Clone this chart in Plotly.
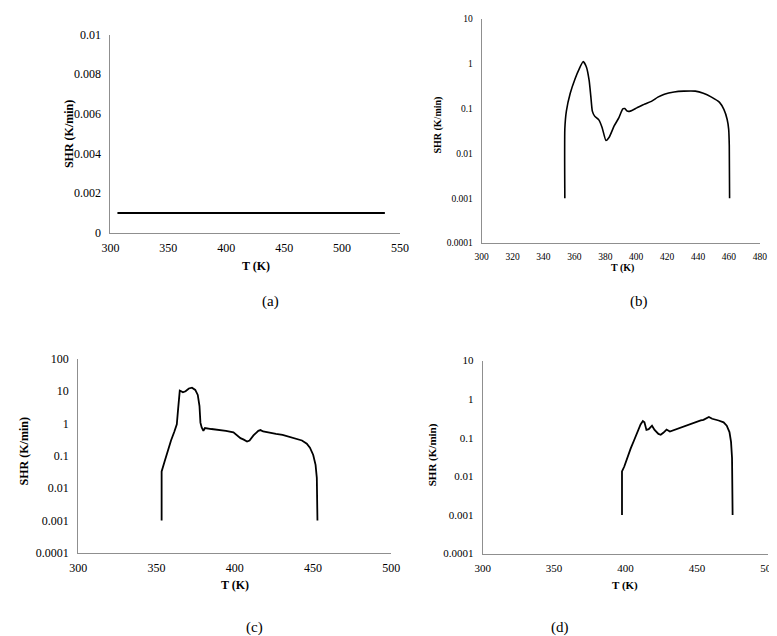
import plotly.graph_objects as go

W, H = 777, 636

# ---- data ----
T_a = [306, 537]
shr_a = [0.001, 0.001]

T_b = [353.8, 353.8, 354.8, 357.3, 360.5, 363.2, 365.7, 367.8, 369.5, 370.6, 371.6, 373.1,
       375.8, 377.9, 380.4, 382.5, 385.7, 388.8, 391.3, 392.6, 394.1, 396.2, 400.4, 405.6,
       409.8, 414.0, 418.2, 424.5, 430.8, 438.2, 443.4, 448.7, 453.9, 456.7, 458.8, 459.8,
       460.2, 460.4]
shr_b = [0.001, 0.035, 0.088, 0.22, 0.47, 0.78, 1.12, 0.84, 0.43, 0.19, 0.088, 0.068,
         0.056, 0.038, 0.0195, 0.023, 0.041, 0.063, 0.099, 0.1, 0.088, 0.088, 0.104, 0.127,
         0.145, 0.18, 0.21, 0.235, 0.245, 0.245, 0.22, 0.18, 0.138, 0.096, 0.058, 0.035,
         0.015, 0.001]

T_c = [353.3, 353.3, 355.2, 357.2, 359.3, 361.4, 363.0, 363.8, 364.9, 365.5, 366.9, 368.6,
       370.7, 372.7, 374.8, 376.4, 377.5, 378.1, 378.9, 380.0, 381.0, 385.1, 389.3, 394.4,
       399.2, 401.7, 403.7, 405.8, 407.9, 409.5, 412.0, 415.1, 416.5, 418.2, 422.3, 426.4,
       430.6, 434.7, 438.8, 443.0, 446.1, 448.1, 450.2, 451.7, 452.5, 452.9]
shr_c = [0.001, 0.033, 0.067, 0.15, 0.30, 0.56, 0.95, 2.7, 10.5, 10.2, 9.3, 10.0,
         12.2, 12.9, 11.0, 7.7, 3.5, 1.07, 0.76, 0.6, 0.73, 0.68, 0.65, 0.6,
         0.54, 0.43, 0.355, 0.32, 0.28, 0.30, 0.43, 0.60, 0.63, 0.57, 0.51, 0.48,
         0.45, 0.40, 0.355, 0.30, 0.24, 0.18, 0.107, 0.053, 0.021, 0.001]

T_d = [397.5, 397.5, 399.1, 401.4, 403.6, 405.9, 408.2, 410.5, 412.1, 413.2, 414.6, 416.2,
       418.5, 420.3, 423.0, 424.6, 426.4, 428.7, 431.0, 432.5, 434.4, 436.5, 439.0, 441.0,
       443.5, 446.0, 448.1, 450.5, 452.6, 454.5, 456.0, 458.3, 460.6, 463.0, 465.1, 468.6,
       470.8, 472.7, 473.8, 474.5, 474.9]
shr_d = [0.001, 0.0134, 0.018, 0.032, 0.053, 0.085, 0.138, 0.22, 0.27, 0.25, 0.16, 0.167,
         0.205, 0.16, 0.126, 0.119, 0.134, 0.163, 0.145, 0.152, 0.16, 0.172, 0.186, 0.195,
         0.21, 0.23, 0.25, 0.265, 0.28, 0.29, 0.31, 0.345, 0.31, 0.295, 0.28, 0.25,
         0.205, 0.14, 0.078, 0.03, 0.001]

log_vals = [0.0001, 0.001, 0.01, 0.1, 1, 10, 100]
log_text = ["0.0001", "0.001", "0.01", "0.1", "1", "10", "100"]
lin_vals = [0, 0.002, 0.004, 0.006, 0.008, 0.01]
lin_text = ["0", "0.002", "0.004", "0.006", "0.008", "0.01"]
xt_a = [300, 350, 400, 450, 500, 550]
xt_b = [300, 320, 340, 360, 380, 400, 420, 440, 460, 480]
xt_cd = [300, 350, 400, 450, 500]

# ---- layout helpers ----
def px(x):
    return x / W

def py(y):
    return 1 - y / H

FONT = "Liberation Serif"
AX = "#8f8f8f"

fig = go.Figure()
fig.add_trace(go.Scatter(x=T_a, y=shr_a, mode="lines", line=dict(color="black", width=2),
                         xaxis="x", yaxis="y", showlegend=False))
fig.add_trace(go.Scatter(x=T_b, y=shr_b, mode="lines", line=dict(color="black", width=1.6, shape="spline", smoothing=0.5),
                         xaxis="x2", yaxis="y2", showlegend=False))
fig.add_trace(go.Scatter(x=T_c, y=shr_c, mode="lines", line=dict(color="black", width=1.8),
                         xaxis="x3", yaxis="y3", showlegend=False))
fig.add_trace(go.Scatter(x=T_d, y=shr_d, mode="lines", line=dict(color="black", width=1.8),
                         xaxis="x4", yaxis="y4", showlegend=False))

def xax(dom, rng, vals, size, anchor):
    return dict(domain=dom, range=rng, tickvals=vals, ticktext=[str(v) for v in vals],
                showline=True, linecolor=AX, linewidth=1, showgrid=False, zeroline=False,
                ticks="", tickfont=dict(family=FONT, size=size, color="black"),
                anchor=anchor, ticklabelstandoff=4, fixedrange=True)

def yax(dom, rng, vals, text, size, anchor, typ="linear"):
    return dict(domain=dom, range=rng, type=typ, tickvals=vals, ticktext=text,
                showline=True, linecolor=AX, linewidth=1, showgrid=False, zeroline=False,
                ticks="", tickfont=dict(family=FONT, size=size, color="black"),
                anchor=anchor, ticklabelstandoff=6, fixedrange=True)

fig.update_layout(
    width=W, height=H, margin=dict(l=0, r=0, t=0, b=0),
    paper_bgcolor="white", plot_bgcolor="white",
    xaxis=xax([px(95.7), px(392)], [300, 550], xt_a, 12, "y"),
    yaxis=yax([py(222.7), py(20)], [0, 0.01], lin_vals, lin_text, 12, "x"),
    xaxis2=xax([px(475.7), px(760.5)], [300, 480], xt_b, 9.5, "y2"),
    yaxis2=yax([py(233.3), py(4)], [-4, 1], log_vals[:6], log_text[:6], 9.5, "x2", "log"),
    xaxis3=xax([px(62.7), px(383)], [300, 500], xt_cd, 12, "y3"),
    yaxis3=yax([py(550), py(351.7)], [-4, 2], log_vals, log_text, 12, "x3", "log"),
    xaxis4=xax([px(476.7), px(769.3)], [300, 500], xt_cd, 11, "y4"),
    yaxis4=yax([py(550.7), py(353.3)], [-4, 1], log_vals[:6], log_text[:6], 11, "x4", "log"),
)

def ann(text, x, y, size, bold=False, angle=0):
    fig.add_annotation(text=("<b>%s</b>" % text) if bold else text, x=px(x), y=py(y),
                       xref="paper", yref="paper", showarrow=False, textangle=angle,
                       xanchor="center", yanchor="middle",
                       font=dict(family=FONT, size=size, color="black"))

ann("SHR (K/min)", 53.3, 121.7, 12, True, -90)
ann("T (K)", 245, 256.7, 12, True)
ann("(a)", 260, 293, 15)

ann("SHR (K/min)", 430, 113, 10, True, -90)
ann("T (K)", 620, 259, 10, True)
ann("(b)", 637, 293, 15)

ann("SHR (K/min)", 6.7, 446.7, 12, True, -90)
ann("T (K)", 223, 583, 12, True)
ann("(c)", 243, 626, 15)

ann("SHR (K/min)", 425, 450, 11, True, -90)
ann("T (K)", 622.7, 583.3, 11, True)
ann("(d)", 556, 626, 15)

fig.write_html("out.html")
